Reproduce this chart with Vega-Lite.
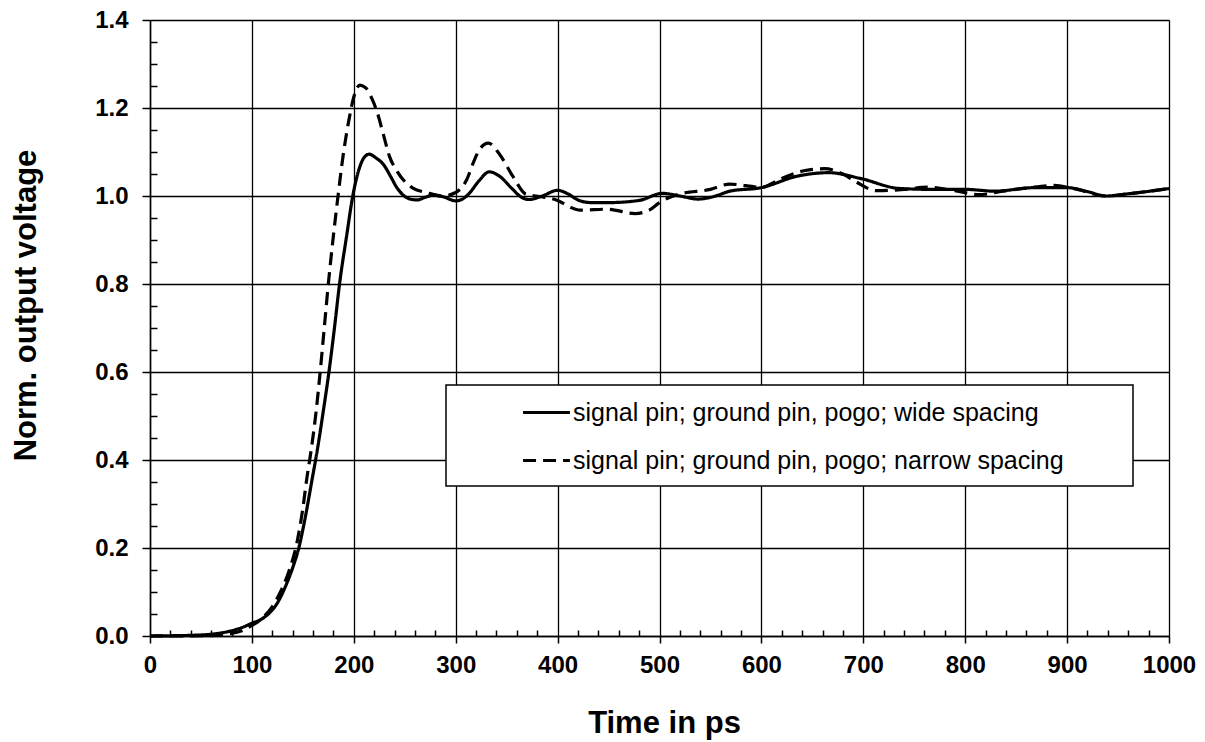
{
  "$schema": "https://vega.github.io/schema/vega-lite/v6.json",
  "width": 1019,
  "height": 616,
  "autosize": {"type": "none"},
  "padding": {"left": 150, "top": 20, "right": 36, "bottom": 106},
  "background": "white",
  "config": {"view": {"stroke": null}, "font": "Liberation Sans"},
  "datasets": {
    "curves": [
      {"t": 0, "v": 0, "s": "wide"},
      {"t": 20, "v": 0.0005, "s": "wide"},
      {"t": 40, "v": 0.0015, "s": "wide"},
      {"t": 60, "v": 0.004, "s": "wide"},
      {"t": 70, "v": 0.007, "s": "wide"},
      {"t": 80, "v": 0.012, "s": "wide"},
      {"t": 90, "v": 0.019, "s": "wide"},
      {"t": 100, "v": 0.029, "s": "wide"},
      {"t": 110, "v": 0.039, "s": "wide"},
      {"t": 117, "v": 0.052, "s": "wide"},
      {"t": 125, "v": 0.075, "s": "wide"},
      {"t": 133, "v": 0.113, "s": "wide"},
      {"t": 140, "v": 0.155, "s": "wide"},
      {"t": 146, "v": 0.2, "s": "wide"},
      {"t": 152, "v": 0.265, "s": "wide"},
      {"t": 159, "v": 0.355, "s": "wide"},
      {"t": 164, "v": 0.42, "s": "wide"},
      {"t": 170, "v": 0.51, "s": "wide"},
      {"t": 175.6, "v": 0.6, "s": "wide"},
      {"t": 181, "v": 0.7, "s": "wide"},
      {"t": 186, "v": 0.8, "s": "wide"},
      {"t": 193, "v": 0.91, "s": "wide"},
      {"t": 199, "v": 1.0, "s": "wide"},
      {"t": 205, "v": 1.06, "s": "wide"},
      {"t": 210, "v": 1.087, "s": "wide"},
      {"t": 215, "v": 1.095, "s": "wide"},
      {"t": 222, "v": 1.086, "s": "wide"},
      {"t": 229, "v": 1.072, "s": "wide"},
      {"t": 236, "v": 1.045, "s": "wide"},
      {"t": 242, "v": 1.02, "s": "wide"},
      {"t": 248, "v": 1.003, "s": "wide"},
      {"t": 254, "v": 0.994, "s": "wide"},
      {"t": 262, "v": 0.991, "s": "wide"},
      {"t": 270, "v": 0.997, "s": "wide"},
      {"t": 278, "v": 1.002, "s": "wide"},
      {"t": 288, "v": 0.998, "s": "wide"},
      {"t": 300, "v": 0.989, "s": "wide"},
      {"t": 308, "v": 0.995, "s": "wide"},
      {"t": 314, "v": 1.008, "s": "wide"},
      {"t": 323, "v": 1.035, "s": "wide"},
      {"t": 333, "v": 1.055, "s": "wide"},
      {"t": 343, "v": 1.045, "s": "wide"},
      {"t": 356, "v": 1.015, "s": "wide"},
      {"t": 364, "v": 0.998, "s": "wide"},
      {"t": 372, "v": 0.992, "s": "wide"},
      {"t": 385, "v": 1.0, "s": "wide"},
      {"t": 400, "v": 1.013, "s": "wide"},
      {"t": 410, "v": 1.005, "s": "wide"},
      {"t": 421, "v": 0.99, "s": "wide"},
      {"t": 433, "v": 0.985, "s": "wide"},
      {"t": 450, "v": 0.985, "s": "wide"},
      {"t": 480, "v": 0.99, "s": "wide"},
      {"t": 503, "v": 1.006, "s": "wide"},
      {"t": 520, "v": 1.0, "s": "wide"},
      {"t": 538, "v": 0.993, "s": "wide"},
      {"t": 555, "v": 1.0, "s": "wide"},
      {"t": 569, "v": 1.011, "s": "wide"},
      {"t": 600, "v": 1.019, "s": "wide"},
      {"t": 635, "v": 1.045, "s": "wide"},
      {"t": 666, "v": 1.053, "s": "wide"},
      {"t": 697, "v": 1.04, "s": "wide"},
      {"t": 736, "v": 1.017, "s": "wide"},
      {"t": 770, "v": 1.015, "s": "wide"},
      {"t": 800, "v": 1.015, "s": "wide"},
      {"t": 829, "v": 1.011, "s": "wide"},
      {"t": 868, "v": 1.019, "s": "wide"},
      {"t": 900, "v": 1.019, "s": "wide"},
      {"t": 920, "v": 1.01, "s": "wide"},
      {"t": 938, "v": 1.0, "s": "wide"},
      {"t": 960, "v": 1.005, "s": "wide"},
      {"t": 1000, "v": 1.017, "s": "wide"},
      {"t": 0, "v": 0, "s": "narrow"},
      {"t": 40, "v": 0.0005, "s": "narrow"},
      {"t": 60, "v": 0.001, "s": "narrow"},
      {"t": 80, "v": 0.006, "s": "narrow"},
      {"t": 90, "v": 0.012, "s": "narrow"},
      {"t": 100, "v": 0.024, "s": "narrow"},
      {"t": 110, "v": 0.04, "s": "narrow"},
      {"t": 120, "v": 0.067, "s": "narrow"},
      {"t": 128, "v": 0.1, "s": "narrow"},
      {"t": 136, "v": 0.145, "s": "narrow"},
      {"t": 144, "v": 0.21, "s": "narrow"},
      {"t": 150, "v": 0.29, "s": "narrow"},
      {"t": 154, "v": 0.36, "s": "narrow"},
      {"t": 158, "v": 0.42, "s": "narrow"},
      {"t": 163, "v": 0.51, "s": "narrow"},
      {"t": 167, "v": 0.6, "s": "narrow"},
      {"t": 171, "v": 0.7, "s": "narrow"},
      {"t": 175, "v": 0.8, "s": "narrow"},
      {"t": 180, "v": 0.91, "s": "narrow"},
      {"t": 184, "v": 0.99, "s": "narrow"},
      {"t": 190, "v": 1.1, "s": "narrow"},
      {"t": 195, "v": 1.17, "s": "narrow"},
      {"t": 200, "v": 1.225, "s": "narrow"},
      {"t": 206, "v": 1.252, "s": "narrow"},
      {"t": 212, "v": 1.245, "s": "narrow"},
      {"t": 218, "v": 1.22, "s": "narrow"},
      {"t": 223, "v": 1.19, "s": "narrow"},
      {"t": 229, "v": 1.14, "s": "narrow"},
      {"t": 235, "v": 1.09, "s": "narrow"},
      {"t": 242, "v": 1.058, "s": "narrow"},
      {"t": 250, "v": 1.033, "s": "narrow"},
      {"t": 258, "v": 1.018, "s": "narrow"},
      {"t": 271, "v": 1.008, "s": "narrow"},
      {"t": 287, "v": 1.0, "s": "narrow"},
      {"t": 300, "v": 1.008, "s": "narrow"},
      {"t": 311, "v": 1.038, "s": "narrow"},
      {"t": 318, "v": 1.08, "s": "narrow"},
      {"t": 324, "v": 1.108, "s": "narrow"},
      {"t": 332, "v": 1.12, "s": "narrow"},
      {"t": 343, "v": 1.095, "s": "narrow"},
      {"t": 356, "v": 1.045, "s": "narrow"},
      {"t": 369, "v": 1.004, "s": "narrow"},
      {"t": 385, "v": 0.998, "s": "narrow"},
      {"t": 400, "v": 0.99, "s": "narrow"},
      {"t": 412, "v": 0.975, "s": "narrow"},
      {"t": 422, "v": 0.968, "s": "narrow"},
      {"t": 449, "v": 0.97, "s": "narrow"},
      {"t": 476, "v": 0.96, "s": "narrow"},
      {"t": 490, "v": 0.968, "s": "narrow"},
      {"t": 500, "v": 0.985, "s": "narrow"},
      {"t": 519, "v": 1.004, "s": "narrow"},
      {"t": 550, "v": 1.015, "s": "narrow"},
      {"t": 569, "v": 1.027, "s": "narrow"},
      {"t": 600, "v": 1.02, "s": "narrow"},
      {"t": 620, "v": 1.04, "s": "narrow"},
      {"t": 643, "v": 1.058, "s": "narrow"},
      {"t": 662, "v": 1.062, "s": "narrow"},
      {"t": 680, "v": 1.05, "s": "narrow"},
      {"t": 693, "v": 1.032, "s": "narrow"},
      {"t": 713, "v": 1.012, "s": "narrow"},
      {"t": 740, "v": 1.015, "s": "narrow"},
      {"t": 763, "v": 1.02, "s": "narrow"},
      {"t": 790, "v": 1.012, "s": "narrow"},
      {"t": 814, "v": 1.003, "s": "narrow"},
      {"t": 837, "v": 1.011, "s": "narrow"},
      {"t": 860, "v": 1.018, "s": "narrow"},
      {"t": 887, "v": 1.024, "s": "narrow"},
      {"t": 910, "v": 1.015, "s": "narrow"},
      {"t": 938, "v": 1.0, "s": "narrow"},
      {"t": 960, "v": 1.005, "s": "narrow"},
      {"t": 1000, "v": 1.017, "s": "narrow"}
    ]
  },
  "layer": [
    {
      "data": {"name": "curves"},
      "mark": {"type": "line", "interpolate": "monotone", "strokeWidth": 3.2, "color": "black"},
      "encoding": {
        "x": {
          "field": "t", "type": "quantitative",
          "scale": {"domain": [0, 1000], "nice": false, "zero": false},
          "axis": {
            "orient": "bottom",
            "values": [0, 100, 200, 300, 400, 500, 600, 700, 800, 900, 1000], "format": "d",
            "grid": true, "gridColor": "black", "gridWidth": 1.3, "gridOpacity": 1,
            "domainColor": "black", "domainWidth": 1.5,
            "tickColor": "black", "tickWidth": 1.5, "tickSize": 7,
            "labelFont": "Liberation Sans", "labelFontSize": 24, "labelFontWeight": "bold", "labelColor": "black",
            "labelPadding": 10, "labelFlush": false, "labelOverlap": false,
            "title": "Time in ps", "titleFont": "Liberation Sans", "titleFontSize": 31, "titleFontWeight": "bold", "titleColor": "black",
            "titleX": 514, "titleY": 96, "titleBaseline": "alphabetic"
          }
        },
        "y": {
          "field": "v", "type": "quantitative",
          "scale": {"domain": [0, 1.4], "nice": false},
          "axis": {
            "orient": "left",
            "values": [0, 0.2, 0.4, 0.6, 0.8, 1.0, 1.2, 1.4], "format": ".1f",
            "grid": true, "gridColor": "black", "gridWidth": 1.3, "gridOpacity": 1,
            "domainColor": "black", "domainWidth": 1.5,
            "tickColor": "black", "tickWidth": 1.5, "tickSize": 8,
            "labelFont": "Liberation Sans", "labelFontSize": 24, "labelFontWeight": "bold", "labelColor": "black",
            "labelPadding": 14, "labelFlush": false, "labelOverlap": false,
            "title": "Norm. output voltage", "titleFont": "Liberation Sans", "titleFontSize": 31, "titleFontWeight": "bold", "titleColor": "black",
            "titleAngle": -90, "titleX": -115, "titleY": 285, "titleBaseline": "alphabetic"
          }
        },
        "strokeDash": {
          "field": "s", "type": "nominal",
          "scale": {"domain": ["wide", "narrow"], "range": [[1, 0], [13, 7]]},
          "legend": {
            "orient": "none", "legendX": 296, "legendY": 365,
            "title": " ", "titleOrient": "right", "titleFontSize": 98, "titlePadding": 67,
            "titleBaseline": "top", "titleAnchor": "start",
            "strokeColor": "black", "fillColor": "white", "padding": 2,
            "symbolType": "stroke", "symbolStrokeWidth": 3.2, "symbolSize": 2200, "symbolStrokeColor": "black",
            "symbolOffset": 73,
            "labelFont": "Liberation Sans", "labelFontSize": 25, "labelColor": "black", "labelOffset": 1, "labelLimit": 0,
            "rowPadding": 9,
            "labelExpr": "datum.label == 'wide' ? 'signal pin; ground pin, pogo; wide spacing' : 'signal pin; ground pin, pogo; narrow spacing'",
            "encode": {"legend": {"update": {"strokeWidth": {"value": 1.5}}}}
          }
        }
      }
    },
    {
      "data": {"name": "curves"},
      "mark": {"type": "point", "opacity": 0},
      "encoding": {
        "x": {
          "field": "t", "type": "quantitative",
          "axis": {
            "orient": "bottom",
            "values": [20, 40, 60, 80, 120, 140, 160, 180, 220, 240, 260, 280, 320, 340, 360, 380, 420, 440, 460, 480, 520, 540, 560, 580, 620, 640, 660, 680, 720, 740, 760, 780, 820, 840, 860, 880, 920, 940, 960, 980],
            "labels": false, "domain": false, "grid": false, "title": null,
            "tickColor": "black", "tickWidth": 1.5, "tickSize": -6
          }
        },
        "y": {
          "field": "v", "type": "quantitative",
          "axis": {
            "orient": "left",
            "values": [0.05, 0.1, 0.15, 0.25, 0.3, 0.35, 0.45, 0.5, 0.55, 0.65, 0.7, 0.75, 0.85, 0.9, 0.95, 1.05, 1.1, 1.15, 1.25, 1.3, 1.35],
            "labels": false, "domain": false, "grid": false, "title": null,
            "tickColor": "black", "tickWidth": 1.5, "tickSize": -7
          }
        }
      }
    }
  ],
  "resolve": {"axis": {"x": "independent", "y": "independent"}}
}
